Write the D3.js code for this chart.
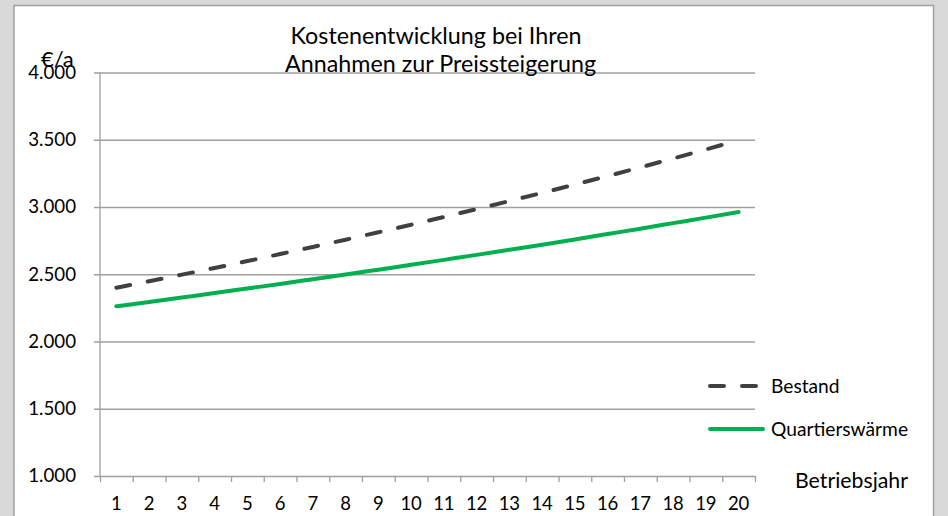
<!DOCTYPE html>
<html>
<head>
<meta charset="utf-8">
<script src="https://cdn.jsdelivr.net/npm/d3@7"></script>
<style>
  html, body { margin: 0; padding: 0; background: #d9d9d9; }
  svg { display: block; }
  text { font-family: Lato, "Open Sans", sans-serif; fill: #000; }
</style>
</head>
<body>
<svg id="chart"></svg>
<script>
const years = d3.range(1, 21).map(String);
const bestand = [2400, 2448, 2497, 2547, 2598, 2650, 2703, 2757, 2812, 2868,
                 2926, 2984, 3044, 3105, 3167, 3230, 3295, 3361, 3428, 3497];
const quartier = [2262, 2294, 2327, 2360, 2394, 2428, 2463, 2498, 2534, 2570,
                  2607, 2644, 2682, 2720, 2759, 2799, 2839, 2880, 2921, 2963];
const yTicks = [1000, 1500, 2000, 2500, 3000, 3500, 4000];
const titleLines = ["Kostenentwicklung bei Ihren", "Annahmen zur Preissteigerung"];

const width = 948, height = 516;
const plotL = 100, plotR = 755, plotT = 72.5, plotB = 476;

const svg = d3.select('#chart').attr('width', width).attr('height', height);

// white panel
svg.append('rect')
  .attr('x', 14).attr('y', 5.5).attr('width', 919.5).attr('height', 520)
  .attr('fill', '#fff').attr('stroke', '#a0a0a0').attr('stroke-width', 1.5);

const de = d3.formatLocale({ decimal: ',', thousands: '.', grouping: [3], currency: ['', '€'] });

const x = d3.scaleBand().domain(years).range([plotL, plotR]);
const xb = d3.scaleLinear().domain([0, 20]).range([plotL, plotR]);
const y = d3.scaleLinear().domain([1000, 4000]).range([plotB, plotT]);

// y axis + grid
const yAxis = svg.append('g')
  .attr('transform', `translate(${plotL},0)`)
  .call(d3.axisLeft(y).tickValues(yTicks).tickSizeInner(-(plotR - plotL)).tickSizeOuter(0)
    .tickPadding(24).tickFormat(de.format(',d')));
yAxis.select('.domain').remove();
yAxis.selectAll('.tick line').attr('x1', -6).attr('stroke', '#a0a0a0').attr('stroke-width', 1.3);
yAxis.selectAll('.tick text').attr('font-size', 18.7).attr('font-family', 'Lato');
svg.append('line')
  .attr('x1', plotL).attr('x2', plotL).attr('y1', plotT).attr('y2', plotB)
  .attr('stroke', '#a0a0a0').attr('stroke-width', 1.3);

// x axis ticks at boundaries
const xTicks = svg.append('g')
  .attr('transform', `translate(0,${plotB})`)
  .call(d3.axisBottom(xb).tickValues(d3.range(0, 21)).tickSize(6).tickFormat(''));
xTicks.select('.domain').remove();
xTicks.selectAll('.tick line').attr('stroke', '#a0a0a0').attr('stroke-width', 1.3);

// x labels at category centers
const xLab = svg.append('g')
  .attr('transform', `translate(0,${plotB})`)
  .call(d3.axisBottom(x).tickSize(0).tickPadding(21));
xLab.select('.domain').remove();
xLab.selectAll('.tick text').attr('font-size', 18.5).attr('font-family', 'Lato');

// lines
const line = d3.line()
  .x((d, i) => x(years[i]) + x.bandwidth() / 2)
  .y(d => y(d))
  .curve(d3.curveMonotoneX);

svg.append('path').datum(quartier)
  .attr('d', line).attr('fill', 'none')
  .attr('stroke', '#00b050').attr('stroke-width', 4).attr('stroke-linecap', 'round');

svg.append('path').datum(bestand)
  .attr('d', line).attr('fill', 'none')
  .attr('stroke', '#404040').attr('stroke-width', 4)
  .attr('stroke-dasharray', '14 18').attr('stroke-linecap', 'round');

// title
svg.append('g').selectAll('text').data(titleLines).enter().append('text')
  .attr('x', (d, i) => i === 0 ? 436 : 440.5)
  .attr('y', (d, i) => 44.3 + i * 28)
  .attr('text-anchor', 'middle').attr('font-size', 23.3)
  .text(d => d);

// unit label
svg.append('text').attr('x', 41).attr('y', 66.7).attr('font-size', 22).text('€/a');

// legend
const legend = [
  { name: 'Bestand', color: '#404040', dash: '14 18', cy: 386 },
  { name: 'Quartierswärme', color: '#00b050', dash: null, cy: 429 }
];
const lg = svg.append('g').selectAll('g').data(legend).enter().append('g');
lg.append('line')
  .attr('x1', 710).attr('x2', d => d.dash ? 758 : 763)
  .attr('y1', d => d.cy).attr('y2', d => d.cy)
  .attr('stroke', d => d.color).attr('stroke-width', 4)
  .attr('stroke-dasharray', d => d.dash).attr('stroke-linecap', 'round');
lg.append('text')
  .attr('x', 771).attr('y', d => d.cy).attr('dy', '0.35em').attr('font-size', 19.2)
  .text(d => d.name);

svg.append('text').attr('x', 795).attr('y', 488.3)
  .attr('font-size', 21.3).text('Betriebsjahr');
</script>
</body>
</html>
